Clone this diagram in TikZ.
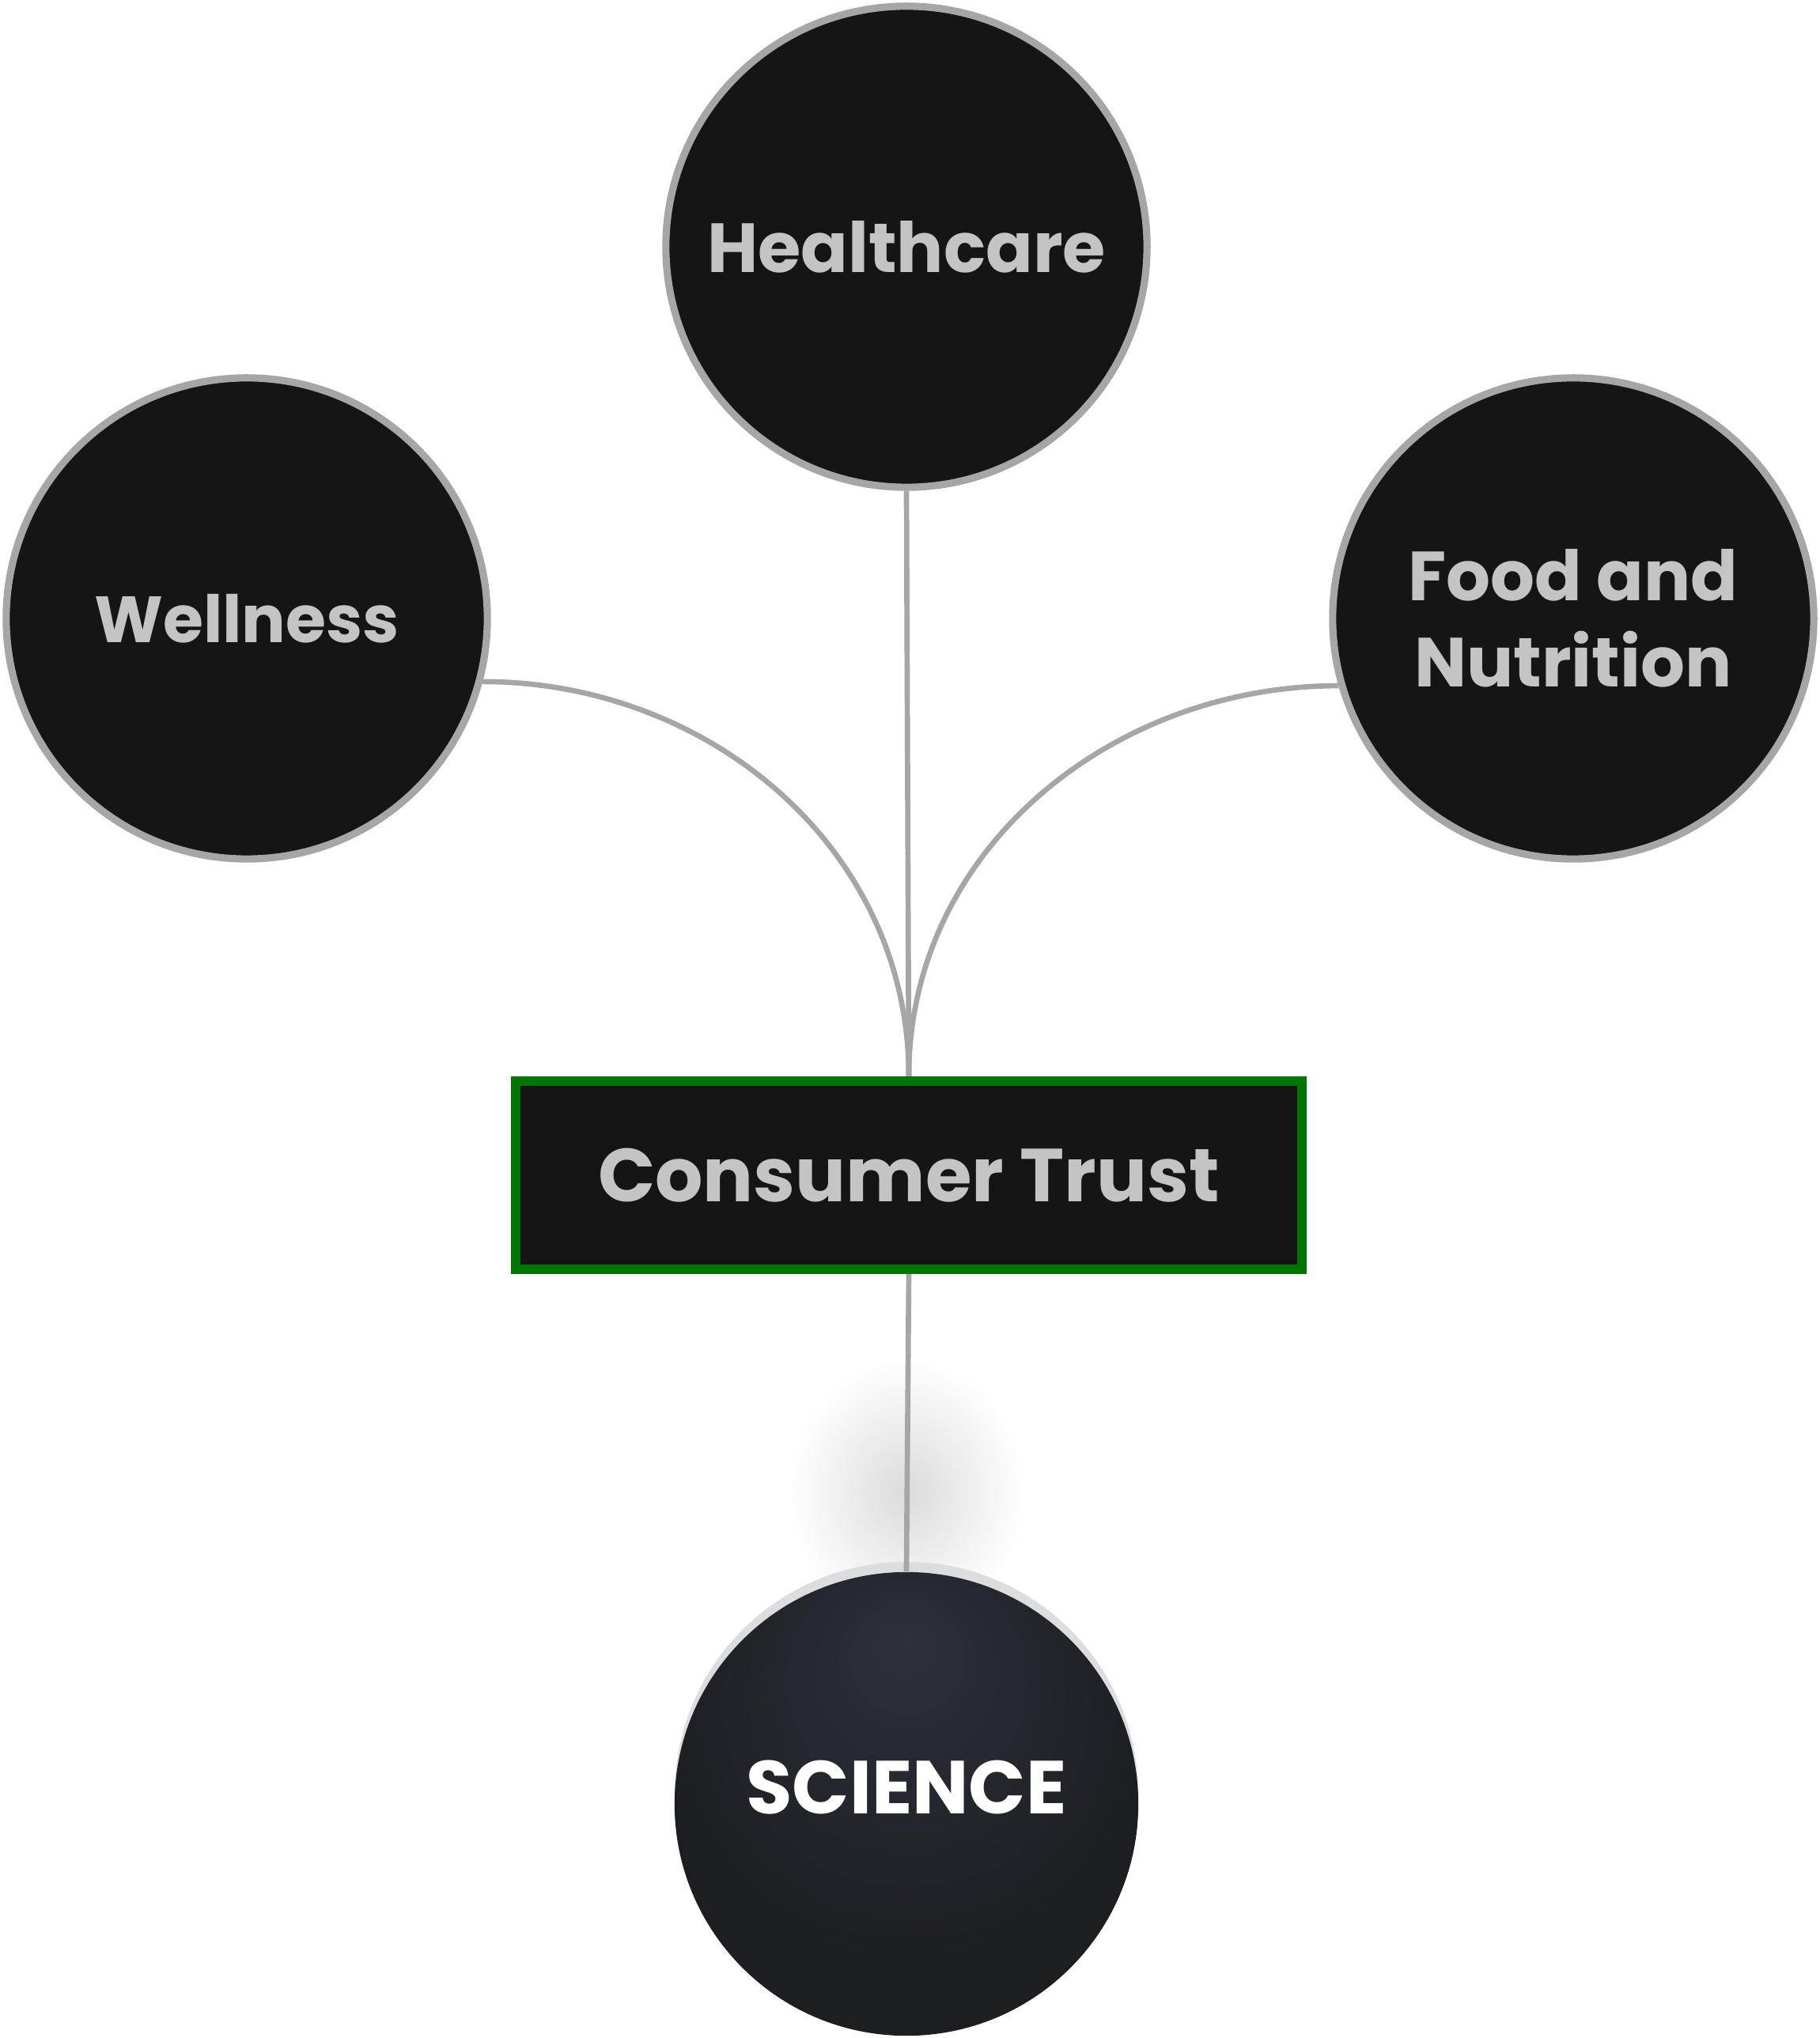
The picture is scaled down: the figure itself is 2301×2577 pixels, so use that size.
\documentclass[tikz,border=0pt]{standalone}
\usepackage{fontspec}
\setmainfont{Poppins}
\usetikzlibrary{backgrounds}
\definecolor{cdark} {RGB}{21,21,21}
\definecolor{cedge} {RGB}{166,166,166}
\definecolor{ctext} {RGB}{196,196,196}
\definecolor{cgreen}{RGB}{0,117,0}
\definecolor{csciA} {RGB}{45,49,57}
\definecolor{csciB} {RGB}{28,30,34}
\definecolor{crim}  {RGB}{220,221,223}
\pgfdeclareradialshading{scishade}{\pgfpoint{0bp}{18bp}}{color(0bp)=(csciA); color(26bp)=(csciB); color(50bp)=(csciB)}
\tikzset{
  topic/.style={circle, draw=cedge, line width=2.6pt, fill=cdark,
                minimum size=6.08cm, inner sep=0pt, align=center,
                text=ctext, font=\fontsize{25}{31}\selectfont\bfseries},
  core/.style={rectangle, draw=cgreen, line width=3.4pt, fill=cdark,
               minimum width=9.94cm, minimum height=2.38cm,
               text=ctext, font=\fontsize{27}{32}\selectfont\bfseries},
  base/.style={circle, shading=scishade, minimum size=5.86cm, inner sep=0pt,
               text=white, font=\fontsize{27}{32}\selectfont\bfseries},
  link/.style={draw=cedge, line width=1.9pt},
}

\begin{document}
\begin{tikzpicture}[x=0.01cm, y=0.01cm]
  \useasboundingbox (0,0) rectangle (2301,2577);
  % ── Nodes ──────────────────────────────────────────────────────────────────
  \node[topic] at (1146,2265) (health) {Healthcare};
  \node[topic] at (312, 1795) (well)   {\fontsize{23.5}{31}\selectfont Wellness};
  \node[topic] at (1989,1795) (food)   {Food and\\Nutrition};
  \node[core]  at (1149,1091) (trust)  {Consumer Trust};
  \node[base]  at (1146, 296) (sci)    {\raisebox{12pt}{SCIENCE}};

  % ── Links ──────────────────────────────────────────────────────────────────
  \draw[link] (health.south) -- (trust.north);
  \draw[link] (well.-15) to[out=0, in=90] (trust.north);
  \draw[link] (food.196) to[out=180, in=90] (trust.north);

  % ── Glow and rim behind the base ───────────────────────────────────────────
  \begin{scope}[on background layer]
    \shade[inner color=black!14, outer color=white] (1146,690) ellipse (150 and 170);
    \fill[crim] (1146,309) circle (293);
    \draw[link] (trust.south) -- (sci.north);
  \end{scope}
\end{tikzpicture}
\end{document}
